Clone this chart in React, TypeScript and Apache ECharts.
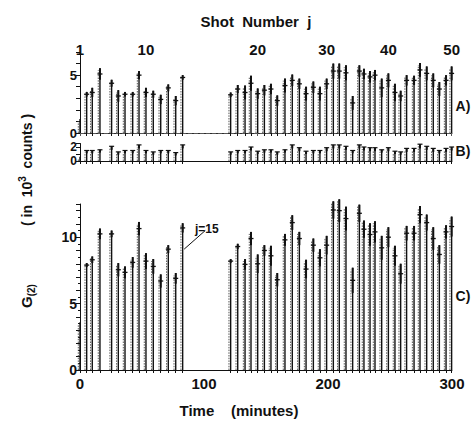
import React, { useEffect, useRef } from 'react';
import * as echarts from 'echarts';

// Time (minutes) of each shot j = 1..50
const shotTimes = [
  0, 5.4, 9.9, 16.1, 25.5, 30.9, 36.3, 42.5, 47.6, 53.2, 59.1, 65.1, 71.2, 77.2, 82.8,
  121.5, 127.2, 133.1, 137.9, 143.3, 148.7, 154.0, 159.1, 165.3, 171.2, 176.9, 182.3, 188.2, 193.5, 198.9,
  204.3, 209.1, 214.5, 219.9, 225.3, 229.0, 233.9, 237.9, 243.3, 248.7, 254.0, 258.6, 263.4, 269.4, 274.2,
  279.6, 284.9, 289.8, 295.2, 299.7,
];
const shotLabels = [1, 10, 20, 30, 40, 50];
const timeLabels = [0, 100, 200, 300];

// Panel A
const aValues = [
  1.2, 3.35, 3.5, 5.1, 4.3, 3.2, 3.35, 3.35, 5.0, 3.5, 3.35, 2.9, 3.9, 2.8, 4.8,
  3.3, 3.8, 3.5, 4.3, 3.4, 3.7, 3.8, 2.8, 4.1, 4.55, 4.25, 3.4, 3.95, 3.4, 4.25,
  5.35, 5.35, 5.2, 2.6, 5.35, 5.1, 4.85, 5.0, 3.9, 4.55, 3.5, 3.2, 4.55, 4.55, 5.45,
  5.15, 4.55, 3.8, 4.55, 5.15,
];
const aErrors = [
  0, 0.2, 0.4, 0.5, 0.3, 0.5, 0.2, 0.2, 0.35, 0.4, 0.3, 0.4, 0.3, 0.4, 0.2,
  0.2, 0.35, 0.6, 0.65, 0.45, 0.45, 0.45, 0.45, 0.6, 0.5, 0.45, 0.6, 0.5, 0.6, 0.45,
  0.65, 0.65, 0.65, 0.6, 0.5, 0.45, 0.5, 0.45, 0.8, 0.6, 0.75, 0.45, 0.45, 0.4, 0.6,
  0.6, 0.6, 0.6, 0.45, 0.6,
];

// Panel B
const bValues = [
  0.6, 1.3, 1.3, 1.4, 1.85, 1.1, 1.3, 1.3, 2.05, 1.3, 1.1, 1.3, 1.3, 1.0, 2.05,
  1.1, 1.3, 1.3, 1.75, 1.2, 1.4, 1.4, 1.1, 1.4, 2.05, 1.65, 1.2, 1.3, 1.3, 1.65,
  2.05, 2.05, 1.85, 1.3, 2.05, 1.75, 1.65, 1.65, 1.4, 1.65, 1.2, 1.1, 1.55, 1.55, 2.1,
  1.85, 1.55, 1.3, 1.55, 1.75,
];
const bErrors = [
  0, 0.2, 0.2, 0.2, 0.25, 0.2, 0.2, 0.2, 0.25, 0.2, 0.2, 0.2, 0.2, 0.2, 0.25,
  0.2, 0.2, 0.2, 0.25, 0.2, 0.2, 0.2, 0.2, 0.2, 0.25, 0.25, 0.2, 0.2, 0.2, 0.25,
  0.25, 0.25, 0.25, 0.2, 0.25, 0.25, 0.25, 0.25, 0.2, 0.25, 0.2, 0.2, 0.25, 0.25, 0.3,
  0.25, 0.25, 0.2, 0.25, 0.25,
];

// Panel C
const cValues = [
  3.6, 7.9, 8.3, 10.25, 10.25, 7.55, 7.35, 8.1, 10.65, 8.2, 7.8, 6.7, 9.1, 6.9, 10.7,
  8.2, 9.3, 7.95, 9.9, 8.0, 9.0, 8.6, 6.8, 9.8, 11.1, 9.9, 7.6, 9.4, 8.45, 9.4,
  12.05, 12.0, 11.4, 6.75, 11.8, 10.6, 10.2, 10.4, 9.2, 10.0, 8.6, 7.25, 10.3, 10.3, 11.7,
  11.1, 9.9, 8.7, 10.4, 10.8,
];
const cErrors = [
  0, 0.15, 0.25, 0.4, 0.25, 0.5, 0.45, 0.4, 0.5, 0.6, 0.55, 0.5, 0.3, 0.4, 0.35,
  0.15, 0.2, 0.4, 0.5, 0.7, 0.4, 0.75, 0.5, 0.45, 0.55, 0.5, 0.7, 0.5, 0.65, 0.7,
  0.65, 0.85, 0.9, 0.95, 0.65, 0.65, 0.85, 0.8, 0.9, 0.75, 0.75, 0.75, 0.55, 0.55, 0.65,
  0.6, 0.85, 0.7, 0.5, 0.75,
];

const FONT = 'Liberation Sans';
const INK = '#111';

function stemRenderer(capAtTop: boolean) {
  return (params: any, api: any) => {
    const t = api.value(0);
    const v = api.value(1);
    const e = api.value(2);
    const base = api.coord([t, 0]);
    const top = api.coord([t, v + e]);
    const mid = api.coord([t, v]);
    const low = api.coord([t, v - e]);
    const children: any[] = [
      {
        type: 'line',
        shape: { x1: base[0] - 1.7, y1: base[1], x2: top[0] - 1.7, y2: top[1] + 2 },
        style: { stroke: '#444', lineWidth: 0.9, lineDash: [1.5, 1.2] },
      },
      {
        type: 'line',
        shape: { x1: base[0], y1: base[1], x2: top[0], y2: top[1] },
        style: { stroke: INK, lineWidth: 1.4 },
      },
    ];
    if (e > 0) {
      children.push({
        type: 'line',
        shape: { x1: low[0], y1: low[1], x2: top[0], y2: top[1] },
        style: { stroke: INK, lineWidth: 2 },
      });
      if (capAtTop) {
        children.push({
          type: 'line',
          shape: { x1: top[0] - 2.5, y1: top[1], x2: top[0] + 2.5, y2: top[1] },
          style: { stroke: INK, lineWidth: 1.2 },
        });
      } else {
        children.push({
          type: 'line',
          shape: { x1: mid[0] - 2.5, y1: mid[1], x2: mid[0] + 2.5, y2: mid[1] },
          style: { stroke: INK, lineWidth: 1.3 },
        });
      }
    }
    return { type: 'group', children };
  };
}

const labelStyle = { fontFamily: FONT, fontWeight: 'bold' as const, fontSize: 13, color: INK };

function yAxis(gridIndex: number, max: number, shown: number[], minor: boolean, fontSize: number) {
  return {
    type: 'value',
    gridIndex,
    min: 0,
    max,
    interval: 1,
    axisLine: { show: true, lineStyle: { color: INK, width: 1 } },
    axisTick: { show: true, length: 4, lineStyle: { color: INK } },
    minorTick: { show: minor, splitNumber: 2, length: 2, lineStyle: { color: INK } },
    splitLine: { show: false },
    axisLabel: {
      ...labelStyle,
      fontSize,
      margin: 3,
      lineHeight: 11,
      formatter: (v: number) => (shown.indexOf(v) >= 0 ? String(v) : ''),
    },
  };
}

function xAxisBottom(gridIndex: number, withLabels: boolean) {
  return {
    type: 'value',
    gridIndex,
    min: 0,
    max: 300,
    position: 'bottom',
    axisLine: { show: true, onZero: false, lineStyle: { color: INK, width: 1 } },
    axisTick: { show: true, length: 3, customValues: shotTimes, lineStyle: { color: INK } },
    splitLine: { show: false },
    axisLabel: withLabels
      ? { ...labelStyle, fontSize: 15, margin: 6, customValues: timeLabels }
      : { show: false },
  };
}

export default function App() {
  const ref = useRef<HTMLDivElement>(null);
  useEffect(() => {
    if (!ref.current) return;
    const chart = echarts.init(ref.current, undefined, { renderer: 'svg' });
    const topCustom = shotLabels.map((j) => shotTimes[j - 1]);
    const option: any = {
      animation: false,
      backgroundColor: '#fff',
      grid: [
        { left: 80, right: 22, top: 52, height: 81 },
        { left: 80, right: 22, top: 143.5, height: 17.5 },
        { left: 80, right: 22, top: 204, height: 166 },
      ],
      xAxis: [
        xAxisBottom(0, false),
        {
          type: 'value',
          gridIndex: 0,
          min: 0,
          max: 300,
          position: 'top',
          offset: 17,
          axisLine: { show: true, lineStyle: { color: '#555', width: 1, type: 'dashed' } },
          axisTick: { show: true, inside: true, length: 3, customValues: topCustom, lineStyle: { color: '#555' } },
          splitLine: { show: false },
          axisLabel: {
            ...labelStyle,
            fontSize: 15,
            inside: true,
            margin: 7,
            customValues: topCustom,
            formatter: (v: number) => {
              const idx = topCustom.indexOf(v);
              return idx >= 0 ? String(shotLabels[idx]) : '';
            },
          },
        },
        xAxisBottom(1, false),
        xAxisBottom(2, true),
      ],
      yAxis: [
        yAxis(0, 7, [0, 5], false, 13),
        yAxis(1, 2.5, [0, 2], false, 12),
        yAxis(2, 12.5, [0, 5, 10], true, 14),
      ],
      series: [
        {
          type: 'custom',
          xAxisIndex: 0,
          yAxisIndex: 0,
          renderItem: stemRenderer(false),
          data: shotTimes.map((t, i) => [t, aValues[i], aErrors[i]]),
          clip: false,
        },
        {
          type: 'custom',
          xAxisIndex: 2,
          yAxisIndex: 1,
          renderItem: stemRenderer(true),
          data: shotTimes.map((t, i) => [t, bValues[i], bErrors[i]]),
          clip: false,
        },
        {
          type: 'custom',
          xAxisIndex: 3,
          yAxisIndex: 2,
          renderItem: stemRenderer(false),
          data: shotTimes.map((t, i) => [t, cValues[i], cErrors[i]]),
          clip: false,
          markLine: {
            silent: true,
            symbol: ['none', 'none'],
            lineStyle: { color: INK, width: 1, type: 'solid' },
            label: {
              show: true,
              position: 'start',
              formatter: 'j=15',
              fontFamily: FONT,
              fontWeight: 'bold',
              fontSize: 12,
              color: INK,
              distance: 2,
            },
            data: [[{ coord: [101, 10.5] }, { coord: [84, 9.1] }]],
          },
        },
      ],
      graphic: [
        {
          type: 'text',
          x: 256,
          y: 21,
          style: { text: 'Shot  Number  j', font: `bold 15px "${FONT}"`, fill: INK, align: 'center', verticalAlign: 'middle' },
        },
        {
          type: 'text',
          x: 239,
          y: 410,
          style: { text: 'Time    (minutes)', font: `bold 15px "${FONT}"`, fill: INK, align: 'center', verticalAlign: 'middle' },
        },
        {
          type: 'text',
          x: 27,
          y: 170,
          rotation: Math.PI / 2,
          style: {
            text: '{n|( in  10}{p|3}{n|  counts )}',
            align: 'center',
            verticalAlign: 'middle',
            fill: INK,
            rich: {
              n: { fontFamily: FONT, fontWeight: 'bold', fontSize: 14, fill: INK, lineHeight: 20 },
              p: { fontFamily: FONT, fontWeight: 'bold', fontSize: 10, fill: INK, lineHeight: 20, verticalAlign: 'top' },
            },
          },
        },
        {
          type: 'text',
          x: 26,
          y: 296,
          rotation: Math.PI / 2,
          style: {
            text: '{n|G}{s|(2)}',
            align: 'center',
            verticalAlign: 'middle',
            fill: INK,
            rich: {
              n: { fontFamily: FONT, fontWeight: 'bold', fontSize: 15, fill: INK, lineHeight: 20 },
              s: { fontFamily: FONT, fontWeight: 'bold', fontSize: 10, fill: INK, lineHeight: 20, verticalAlign: 'bottom' },
            },
          },
        },
        { type: 'text', x: 463, y: 106, style: { text: 'A)', font: `bold 14px "${FONT}"`, fill: INK, align: 'center', verticalAlign: 'middle' } },
        { type: 'text', x: 463, y: 151, style: { text: 'B)', font: `bold 14px "${FONT}"`, fill: INK, align: 'center', verticalAlign: 'middle' } },
        { type: 'text', x: 463, y: 296, style: { text: 'C)', font: `bold 14px "${FONT}"`, fill: INK, align: 'center', verticalAlign: 'middle' } },
      ],
    };
    chart.setOption(option);
    return () => chart.dispose();
  }, []);
  return <div ref={ref} style={{ width: 474, height: 421, position: 'absolute', left: 0, top: 0 }} />;
}
